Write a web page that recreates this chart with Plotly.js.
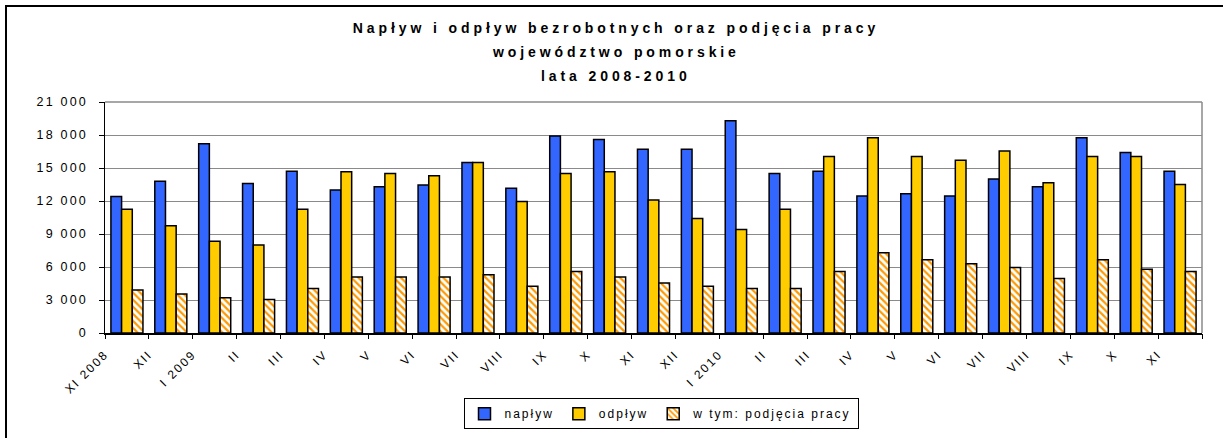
<!DOCTYPE html>
<html>
<head>
<meta charset="utf-8">
<script src="https://cdn.plot.ly/plotly-3.0.1.min.js"></script>
<style>
  html, body { margin: 0; padding: 0; background: #fff; overflow: hidden; }
  #wrap { position: relative; width: 1223px; height: 438px; overflow: hidden; }
  #chart { position: absolute; left: 0; top: 0; width: 1223px; height: 438px; }
  #frameL { position: absolute; left: 5px; top: 5px; width: 2px; height: 433px; background: #000; }
  #frameT { position: absolute; left: 5px; top: 5px; width: 1218px; height: 2px; background: #000; }
  .gtitle, .annotation-text { letter-spacing: 3.9px; }
  .ytick text { letter-spacing: 2.2px; }
  .xtick text { letter-spacing: 2px; }
  .legendtext { letter-spacing: 2px; }
</style>
</head>
<body>
<div id="wrap">
  <div id="chart"></div>
  <div id="frameL"></div>
  <div id="frameT"></div>
</div>
<script>
const months = ['XI 2008','XII','I 2009','II','III','IV','V','VI','VII','VIII','IX','X','XI','XII','I 2010','II','III','IV','V','VI','VII','VIII','IX','X','XI'];
const naplyw = [12400, 13800, 17200, 13600, 14700, 13000, 13300, 13450, 15500, 13150, 17900, 17600, 16700, 16700, 19300, 14500, 14700, 12450, 12650, 12450, 14000, 13300, 17750, 16400, 14700];
const odplyw = [11250, 9750, 8350, 8000, 11250, 14650, 14500, 14300, 15500, 11950, 14500, 14650, 12100, 10400, 9400, 11250, 16050, 17750, 16050, 15700, 16550, 13650, 16050, 16050, 13500];
const podjecia = [3900, 3550, 3200, 3050, 4050, 5100, 5100, 5100, 5300, 4250, 5600, 5100, 4550, 4250, 4050, 4050, 5600, 7300, 6650, 6300, 5950, 4950, 6650, 5800, 5600];
const seriesNames = ['napływ', 'odpływ', 'w tym: podjęcia pracy'];
const titleLines = ['Napływ i odpływ bezrobotnych oraz podjęcia pracy', 'województwo pomorskie', 'lata 2008-2010'];

const idx = months.map((m, i) => i);
const bounds = idx.map(i => i - 0.5).concat([months.length - 0.5]);
const font = 'Liberation Sans, Arial, sans-serif';
const outline = { color: '#000', width: 1.5 };
const titleFont = { family: font, size: 14, weight: 'bold', color: '#000' };

const traces = [
  { type: 'bar', name: seriesNames[0], x: idx, y: naplyw,
    marker: { color: '#3366FF', line: outline } },
  { type: 'bar', name: seriesNames[1], x: idx, y: odplyw,
    marker: { color: '#FFCC00', line: outline } },
  { type: 'bar', name: seriesNames[2], x: idx, y: podjecia,
    marker: { color: '#FFFFFF', line: outline,
      pattern: { shape: '\\', fgcolor: '#FF9900', bgcolor: '#FFFFFF', size: 5, solidity: 0.45 } } },
  { type: 'scatter', x: [], y: [], xaxis: 'x2', showlegend: false, hoverinfo: 'skip' }
];

const layout = {
  width: 1223, height: 438,
  margin: { l: 105, r: 21, t: 102, b: 105, pad: 0, autoexpand: false },
  paper_bgcolor: '#fff', plot_bgcolor: '#fff',
  separators: ', ',
  font: { family: font, color: '#000', size: 12 },
  barmode: 'group', bargap: 0.27, bargroupgap: 0,
  showlegend: true,
  title: { text: titleLines[0], font: titleFont, automargin: false,
           xref: 'container', x: 616 / 1223, xanchor: 'center',
           yref: 'container', y: 1 - 28 / 438, yanchor: 'middle' },
  annotations: [
    { text: titleLines[1], xref: 'paper', yref: 'paper', x: (616 - 105) / 1097, y: (332 - 52) / 230,
      xanchor: 'center', yanchor: 'middle', showarrow: false, font: titleFont },
    { text: titleLines[2], xref: 'paper', yref: 'paper', x: (616 - 105) / 1097, y: (332 - 76) / 230,
      xanchor: 'center', yanchor: 'middle', showarrow: false, font: titleFont }
  ],
  xaxis: {
    range: [-0.5, months.length - 0.5], tickmode: 'array', tickvals: idx, ticktext: months,
    tickangle: -45, ticks: '', showgrid: false, zeroline: false, automargin: false,
    showline: true, linecolor: '#000', linewidth: 1.5,
    tickfont: { family: font, size: 12, color: '#000' }, ticklabelstandoff: 8, ticklabelshift: -22
  },
  xaxis2: {
    overlaying: 'x', anchor: 'y', side: 'bottom', automargin: false,
    range: [-0.5, months.length - 0.5], tickmode: 'array', tickvals: bounds,
    ticks: 'outside', ticklen: 5, tickwidth: 1, tickcolor: '#000',
    showticklabels: false, showgrid: false, zeroline: false, showline: false
  },
  yaxis: {
    range: [0, 21000], tick0: 0, dtick: 3000, tickformat: ',d', automargin: false,
    showgrid: true, gridcolor: '#8a8a8a', gridwidth: 1, zeroline: false,
    showline: true, linecolor: '#000', linewidth: 1.5,
    ticks: 'outside', ticklen: 5, tickwidth: 1, tickcolor: '#000',
    tickfont: { family: font, size: 12.5, color: '#000' }, ticklabelstandoff: 8
  },
  shapes: [
    { type: 'line', xref: 'paper', yref: 'paper', x0: 1, x1: 1, y0: 0, y1: 1,
      line: { color: '#8a8a8a', width: 1.5 } },
    { type: 'line', xref: 'paper', yref: 'paper', x0: 0, x1: 1, y0: 1, y1: 1,
      line: { color: '#8a8a8a', width: 1.5 } }
  ],
  legend: {
    orientation: 'h', xref: 'paper', yref: 'paper',
    x: (661 - 105) / 1097, xanchor: 'center', y: (332 - 397) / 230, yanchor: 'top',
    bgcolor: '#fff', bordercolor: '#000', borderwidth: 1,
    font: { family: font, size: 12, color: '#000' },
    itemwidth: 30, traceorder: 'normal'
  }
};

Plotly.newPlot('chart', traces, layout, { staticPlot: true, displayModeBar: false });
</script>
</body>
</html>
